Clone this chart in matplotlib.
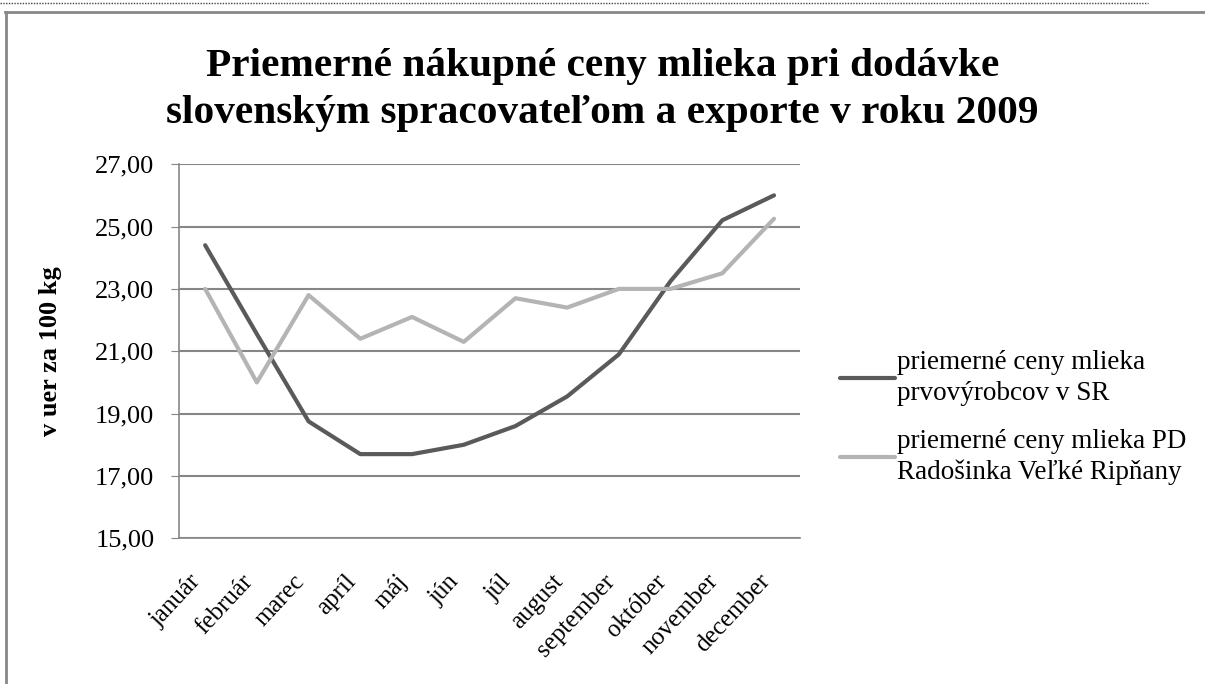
import matplotlib.pyplot as plt
from matplotlib.lines import Line2D

# Monthly average milk prices (EUR per 100 kg), 2009
months = ['január', 'február', 'marec', 'apríl', 'máj', 'jún', 'júl',
          'august', 'september', 'október', 'november', 'december']
sr_prices = [24.4, 21.55, 18.75, 17.7, 17.7, 18.0, 18.6, 19.55, 20.9, 23.25, 25.2, 26.0]
pd_prices = [23.0, 20.0, 22.8, 21.4, 22.1, 21.3, 22.7, 22.4, 23.0, 23.0, 23.5, 25.25]
series_labels = ['priemerné ceny mlieka\nprvovýrobcov v SR',
                 'priemerné ceny mlieka PD\nRadošinka Veľké Ripňany']
yticks = [15, 17, 19, 21, 23, 25, 27]

plt.rcParams['font.family'] = ['Liberation Serif', 'DejaVu Serif']

fig = plt.figure(figsize=(12.05, 6.84), dpi=100)
ax = fig.add_axes([0.1488, 0.213, 0.515, 0.547])

x = range(len(months))
ax.plot(x, sr_prices, color='#5a5a5a', lw=3, label=series_labels[0], solid_capstyle='round')
ax.plot(x, pd_prices, color='#b4b4b4', lw=3, label=series_labels[1], solid_capstyle='round')

ax.set_xlim(-0.5, len(months) - 0.5)
ax.set_ylim(15, 27)
ax.set_yticks(yticks)
ax.yaxis.set_major_formatter(plt.FuncFormatter(lambda v, p: ('%.2f' % v).replace('.', ',')))
ax.set_xticks(list(x))
ax.set_xticklabels(months, rotation=47, ha='right', va='top', fontsize=18)
ax.tick_params(axis='x', length=0, pad=23)
ax.tick_params(axis='y', length=6, color='#868686', labelsize=19, pad=12)
ax.grid(axis='y', color='#868686', lw=1.5)
ax.set_axisbelow(True)
for s in ['top', 'right']:
    ax.spines[s].set_visible(False)
for s in ['left', 'bottom']:
    ax.spines[s].set_color('#868686')
    ax.spines[s].set_linewidth(1.2)

ax.set_ylabel('v uer za 100 kg', fontsize=19, fontweight='bold', labelpad=24)

fig.text(0.5, 0.869, 'Priemerné nákupné ceny mlieka pri dodávke\nslovenským spracovateľom a exporte v roku 2009',
         ha='center', va='center', fontsize=29.7, fontweight='bold', linespacing=1.36)

leg = ax.legend(loc='center left', bbox_to_anchor=(1.026, 0.322), frameon=False,
                fontsize=19.5, handlelength=2.0, handletextpad=0.1, labelspacing=0.85)
for t in leg.get_texts():
    t.set_linespacing(1.3)

# outer frame
fig.add_artist(Line2D([0.004, 1.0], [0.982, 0.982], color='#888888', lw=2, transform=fig.transFigure))
fig.add_artist(Line2D([0.005, 0.005], [0.0, 0.982], color='#888888', lw=2, transform=fig.transFigure))
fig.add_artist(Line2D([0.0, 0.953], [0.996, 0.996], color='#444444', lw=1, ls=(0, (1, 1)), transform=fig.transFigure))

fig.savefig('out.png', dpi=100)
